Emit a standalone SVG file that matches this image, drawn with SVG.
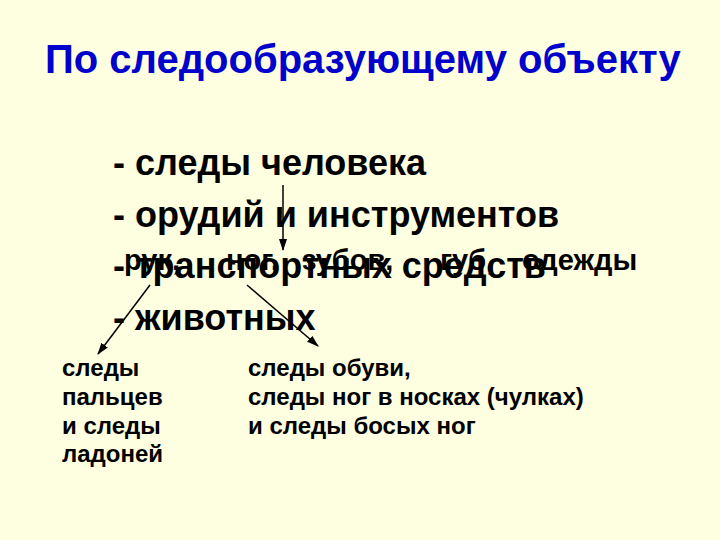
<svg xmlns="http://www.w3.org/2000/svg" width="720" height="540" viewBox="0 0 720 540">
<defs>
<marker id="ah" markerWidth="12" markerHeight="10" refX="11" refY="5" orient="auto" markerUnits="userSpaceOnUse">
<path d="M0,1 L12,5 L0,9 Z" fill="#000"/>
</marker>
<style>
.title{font-family:"Liberation Sans",Arial,sans-serif;font-weight:bold;font-size:40px;fill:#0000cc}
.row{font-family:"Liberation Sans",Arial,sans-serif;font-weight:bold;font-size:36px;fill:#000}
.ov{font-family:"Liberation Sans",Arial,sans-serif;font-weight:bold;font-size:29px;fill:#000}
.sub{font-family:"Liberation Sans",Arial,sans-serif;font-weight:bold;font-size:24px;fill:#000}
.con{stroke:#000;stroke-width:1.5;fill:none;marker-end:url(#ah)}
</style>
</defs>
<rect width="720" height="540" fill="#fefee0"/>
<g id="title"><text class="title" x="45" y="73">По следообразующему объекту</text></g>
<g id="n-human"><text class="row" x="113" y="175">- следы человека</text></g>
<g id="n-tools"><text class="row" x="113" y="227">- орудий и инструментов</text></g>
<g id="n-transport"><text class="row" x="113" y="278">- транспортных средств</text></g>
<g id="n-parts"><text class="ov" y="270"><tspan x="124">рук,</tspan><tspan x="226">ног,</tspan><tspan x="302">зубов,</tspan><tspan x="440">губ,</tspan><tspan x="522">одежды</tspan></text></g>
<g id="n-animals"><text class="row" x="113" y="330">- животных</text></g>
<g id="n-hands"><text class="sub" x="62" y="376">следы</text><text class="sub" x="62" y="405">пальцев</text><text class="sub" x="62" y="434">и следы</text><text class="sub" x="62" y="462">ладоней</text></g>
<g id="n-feet"><text class="sub" x="248" y="376">следы обуви,</text><text class="sub" x="248" y="405">следы ног в носках (чулках)</text><text class="sub" x="248" y="434">и следы босых ног</text></g>
<g id="connectors">
<line class="con" x1="283" y1="185" x2="283" y2="250"/>
<line class="con" x1="150" y1="285" x2="98" y2="354"/>
<line class="con" x1="247" y1="285" x2="318" y2="346"/>
</g>
</svg>
